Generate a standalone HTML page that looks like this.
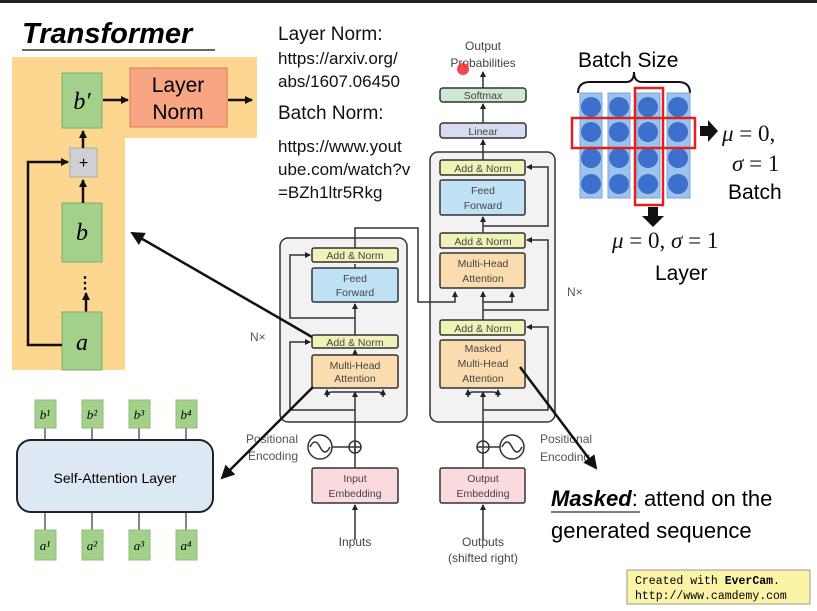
<!DOCTYPE html>
<html><head><meta charset="utf-8"><style>
html,body{margin:0;padding:0;background:#fff;}
svg{display:block;}
text{font-family:"Liberation Sans",sans-serif;}
text.m{font-family:"Liberation Serif",serif;font-style:italic;}
</style></head><body>
<svg width="817" height="611" viewBox="0 0 817 611" xmlns="http://www.w3.org/2000/svg">
<defs>
<marker id="ah" markerWidth="8" markerHeight="8" refX="7" refY="4" orient="auto" markerUnits="userSpaceOnUse"><path d="M0,0 L8,4 L0,8 z" fill="#111"/></marker>
<marker id="as" markerWidth="6" markerHeight="6" refX="5" refY="3" orient="auto" markerUnits="userSpaceOnUse"><path d="M0,0 L6,3 L0,6 z" fill="#222"/></marker>
<marker id="ab" markerWidth="14" markerHeight="14" refX="12" refY="7" orient="auto" markerUnits="userSpaceOnUse"><path d="M0,0 L14,7 L0,14 z" fill="#111"/></marker>
</defs>
<rect x="0" y="0" width="817" height="3" fill="#222"/>
<text x="22" y="43" font-size="29" font-weight="bold" font-style="italic">Transformer</text>
<line x1="22" y1="50" x2="215" y2="50" stroke="#333" stroke-width="1.5"/>
<path d="M12,57 H257 V138 H125 V370 H12 Z" fill="#fdd690"/>
<rect x="62" y="73" width="40" height="55" fill="#a3d08a" stroke="#7fae6a"/>
<text x="82" y="109" font-size="24" text-anchor="middle" class="m">b′</text>
<rect x="130" y="68" width="97" height="59" fill="#f8a584" stroke="#e07a55"/>
<text x="178" y="92" font-size="21" text-anchor="middle">Layer</text>
<text x="178" y="119" font-size="21" text-anchor="middle">Norm</text>
<line x1="103" y1="100" x2="128" y2="100" stroke="#111" stroke-width="2.5" marker-end="url(#ah)"/>
<line x1="228" y1="100" x2="252" y2="100" stroke="#111" stroke-width="2.5" marker-end="url(#ah)"/>
<rect x="70" y="148" width="27" height="29" fill="#d0d0d4" stroke="#aaa"/>
<text x="83.5" y="168" font-size="16" text-anchor="middle">+</text>
<line x1="83" y1="148" x2="83" y2="131" stroke="#111" stroke-width="2.5" marker-end="url(#ah)"/>
<rect x="62" y="203" width="40" height="59" fill="#a3d08a" stroke="#7fae6a"/>
<text x="82" y="240" font-size="24" text-anchor="middle" class="m">b</text>
<line x1="83" y1="203" x2="83" y2="180" stroke="#111" stroke-width="2.5" marker-end="url(#ah)"/>
<text x="85" y="288" font-size="16" text-anchor="middle" font-weight="bold">⋮</text>
<line x1="86" y1="312" x2="86" y2="293" stroke="#111" stroke-width="2.5" marker-end="url(#ah)"/>
<rect x="62" y="312" width="40" height="58" fill="#a3d08a" stroke="#7fae6a"/>
<text x="82" y="350" font-size="24" text-anchor="middle" class="m">a</text>
<path d="M62,345 H28 V162 H68" fill="none" stroke="#111" stroke-width="2.5" marker-end="url(#ah)"/>
<g stroke="#333" stroke-width="1.2">
<line x1="45" y1="428" x2="45" y2="530"/><line x1="92" y1="428" x2="92" y2="530"/><line x1="139" y1="428" x2="139" y2="530"/><line x1="186" y1="428" x2="186" y2="530"/>
</g>
<rect x="17" y="440" width="196" height="72" rx="14" fill="#dce8f4" stroke="#222" stroke-width="2"/>
<text x="115" y="483" font-size="14" text-anchor="middle">Self-Attention Layer</text>
<g fill="#a3d08a" stroke="#8fbb78">
<rect x="35" y="400" width="21" height="28"/><rect x="82" y="400" width="21" height="28"/><rect x="129" y="400" width="21" height="28"/><rect x="176" y="400" width="21" height="28"/>
<rect x="35" y="530" width="21" height="30"/><rect x="82" y="530" width="21" height="30"/><rect x="129" y="530" width="21" height="30"/><rect x="176" y="530" width="21" height="30"/>
</g>
<g font-size="13" text-anchor="middle">
<text class="m" x="45" y="419">b¹</text><text class="m" x="92" y="419">b²</text><text class="m" x="139" y="419">b³</text><text class="m" x="186" y="419">b⁴</text>
<text class="m" x="45" y="550">a¹</text><text class="m" x="92" y="550">a²</text><text class="m" x="139" y="550">a³</text><text class="m" x="186" y="550">a⁴</text>
</g>
<g font-size="19" fill="#111">
<text x="278" y="40">Layer Norm:</text>
<text x="278" y="64" font-size="17">https://arxiv.org/</text>
<text x="278" y="87" font-size="17">abs/1607.06450</text>
<text x="278" y="119">Batch Norm:</text>
<text x="278" y="152" font-size="17">https://www.yout</text>
<text x="278" y="175" font-size="17">ube.com/watch?v</text>
<text x="278" y="198" font-size="17">=BZh1ltr5Rkg</text>
</g>
<rect x="280" y="238" width="127" height="184" rx="8" fill="#f2f2f2" stroke="#333" stroke-width="1.5"/>
<rect x="430" y="152" width="125" height="270" rx="8" fill="#f2f2f2" stroke="#333" stroke-width="1.5"/>
<g stroke="#333" stroke-width="1.5" fill="none">
<line x1="355" y1="468" x2="355" y2="392" marker-end="url(#as)"/>
<line x1="355" y1="388" x2="355" y2="350" marker-end="url(#as)"/>
<line x1="355" y1="335" x2="355" y2="304" marker-end="url(#as)"/>
<line x1="355" y1="268" x2="355" y2="264"/>
<path d="M355,410 H290 V342 H310" marker-end="url(#as)"/>
<path d="M355,318 H290 V255 H310" marker-end="url(#as)"/>
<path d="M327,397 Q327,392 332,392 H378 Q383,392 383,397"/>
<line x1="327" y1="397" x2="327" y2="390" marker-end="url(#as)"/>
<line x1="383" y1="397" x2="383" y2="390" marker-end="url(#as)"/>
<line x1="355" y1="540" x2="355" y2="505" marker-end="url(#as)"/>
<path d="M355,248 V228 H418 V302 H455 V292" marker-end="url(#as)"/>
<line x1="483" y1="468" x2="483" y2="392" marker-end="url(#as)"/>
<line x1="483" y1="540" x2="483" y2="505" marker-end="url(#as)"/>
<path d="M483,410 H548 V327 H527" marker-end="url(#as)"/>
<path d="M468,397 Q468,392 473,392 H493 Q498,392 498,397"/>
<line x1="468" y1="397" x2="468" y2="390" marker-end="url(#as)"/>
<line x1="498" y1="397" x2="498" y2="390" marker-end="url(#as)"/>
<path d="M483,320 V302 H512 V292" marker-end="url(#as)"/>
<line x1="483" y1="302" x2="483" y2="292" marker-end="url(#as)"/>
<path d="M483,310 H548 V240 H527" marker-end="url(#as)"/>
<line x1="483" y1="233" x2="483" y2="217" marker-end="url(#as)"/>
<path d="M483,226 H548 V167 H527" marker-end="url(#as)"/>
<line x1="483" y1="160" x2="483" y2="140" marker-end="url(#as)"/>
<line x1="483" y1="123" x2="483" y2="104" marker-end="url(#as)"/>
<line x1="483" y1="88" x2="483" y2="72" marker-end="url(#as)"/>
<circle cx="320" cy="447" r="12"/>
<path d="M310,447 Q315,437 320,447 Q325,457 330,447"/>
<line x1="332" y1="447" x2="349" y2="447"/>
<circle cx="355" cy="447" r="6"/>
<line x1="349" y1="447" x2="361" y2="447"/><line x1="355" y1="441" x2="355" y2="453"/>
<circle cx="512" cy="447" r="12"/>
<path d="M502,447 Q507,437 512,447 Q517,457 522,447"/>
<line x1="489" y1="447" x2="500" y2="447"/>
<circle cx="483" cy="447" r="6"/>
<line x1="477" y1="447" x2="489" y2="447"/>
</g>
<g stroke="#333" stroke-width="1.5">
<rect x="312" y="248" width="86" height="14" rx="2" fill="#f1f2b8"/>
<rect x="312" y="268" width="86" height="34" rx="2" fill="#bfe3f4"/>
<rect x="312" y="335" width="86" height="13" rx="2" fill="#f1f2b8"/>
<rect x="312" y="355" width="86" height="33" rx="2" fill="#fbdcae"/>
<rect x="312" y="468" width="86" height="35" rx="2" fill="#fadadc"/>
<rect x="440" y="160" width="85" height="15" rx="2" fill="#f1f2b8"/>
<rect x="440" y="180" width="85" height="35" rx="2" fill="#bfe3f4"/>
<rect x="440" y="233" width="85" height="15" rx="2" fill="#f1f2b8"/>
<rect x="440" y="253" width="85" height="35" rx="2" fill="#fbdcae"/>
<rect x="440" y="320" width="85" height="15" rx="2" fill="#f1f2b8"/>
<rect x="440" y="340" width="85" height="48" rx="2" fill="#fbdcae"/>
<rect x="440" y="468" width="85" height="35" rx="2" fill="#fadadc"/>
<rect x="440" y="123" width="86" height="15" rx="3" fill="#d8dcf0"/>
<rect x="440" y="88" width="86" height="14" rx="3" fill="#cfe8d4"/>
</g>
<g font-size="10.5" fill="#444" text-anchor="middle">
<text x="355" y="259">Add &amp; Norm</text>
<text x="355" y="282">Feed</text><text x="355" y="296">Forward</text>
<text x="355" y="346">Add &amp; Norm</text>
<text x="355" y="369">Multi-Head</text><text x="355" y="382">Attention</text>
<text x="355" y="482">Input</text><text x="355" y="497">Embedding</text>
<text x="355" y="546" font-size="12">Inputs</text>
<text x="483" y="172">Add &amp; Norm</text>
<text x="483" y="194">Feed</text><text x="483" y="209">Forward</text>
<text x="483" y="245">Add &amp; Norm</text>
<text x="483" y="267">Multi-Head</text><text x="483" y="282">Attention</text>
<text x="483" y="332">Add &amp; Norm</text>
<text x="483" y="352">Masked</text><text x="483" y="367">Multi-Head</text><text x="483" y="382">Attention</text>
<text x="483" y="482">Output</text><text x="483" y="497">Embedding</text>
<text x="483" y="546" font-size="12">Outputs</text>
<text x="483" y="562" font-size="12">(shifted right)</text>
<text x="483" y="135">Linear</text>
<text x="483" y="99">Softmax</text>
<text x="483" y="50" font-size="12">Output</text>
<text x="483" y="67" font-size="12">Probabilities</text>
</g>
<circle cx="463" cy="69" r="6" fill="#ee2a2a" opacity="0.85"/>
<g font-size="12" fill="#555">
<text x="250" y="341">N×</text><text x="567" y="296">N×</text>
<text x="298" y="443" text-anchor="end">Positional</text><text x="298" y="460" text-anchor="end">Encoding</text>
<text x="540" y="443">Positional</text><text x="540" y="461">Encoding</text>
</g>
<line x1="312" y1="337" x2="132" y2="233" stroke="#111" stroke-width="2.5" marker-end="url(#ab)"/>
<line x1="313" y1="387" x2="222" y2="478" stroke="#111" stroke-width="2.5" marker-end="url(#ab)"/>
<line x1="520" y1="367" x2="596" y2="468" stroke="#111" stroke-width="2.5" marker-end="url(#ab)"/>
<text x="578" y="67" font-size="21">Batch Size</text>
<path d="M578,93 Q578,82 590,82 H626 Q634,82 634,72 Q634,82 642,82 H678 Q690,82 690,93" fill="none" stroke="#111" stroke-width="2"/>
<g fill="#9cc3ec" stroke="#7aa6d8">
<rect x="580" y="93" width="22" height="105"/><rect x="608" y="93" width="22" height="105"/><rect x="637" y="93" width="23" height="105"/><rect x="667" y="93" width="23" height="105"/>
</g>
<g fill="#3d6fcc">
<circle cx="591" cy="107" r="10"/><circle cx="619" cy="107" r="10"/><circle cx="648" cy="107" r="10"/><circle cx="678" cy="107" r="10"/>
<circle cx="591" cy="132" r="10"/><circle cx="619" cy="132" r="10"/><circle cx="648" cy="132" r="10"/><circle cx="678" cy="132" r="10"/>
<circle cx="591" cy="158" r="10"/><circle cx="619" cy="158" r="10"/><circle cx="648" cy="158" r="10"/><circle cx="678" cy="158" r="10"/>
<circle cx="591" cy="184" r="10"/><circle cx="619" cy="184" r="10"/><circle cx="648" cy="184" r="10"/><circle cx="678" cy="184" r="10"/>
</g>
<rect x="572" y="118" width="123" height="30" fill="none" stroke="#e02020" stroke-width="2.5"/>
<rect x="635" y="88" width="28" height="117" fill="none" stroke="#e02020" stroke-width="2.5"/>
<path d="M700,126 H708 V120 L718,131 L708,142 V136 H700 Z" fill="#111"/>
<path d="M648,207 H658 V216 H664 L653,227 L642,216 H648 Z" fill="#111"/>
<g font-size="23" fill="#111">
<text class="m" x="722" y="141">μ <tspan font-style="normal">= 0,</tspan></text>
<text class="m" x="732" y="171">σ <tspan font-style="normal">= 1</tspan></text>
<text class="m" x="612" y="248">μ <tspan font-style="normal">= 0, </tspan>σ<tspan font-style="normal"> = 1</tspan></text>
</g>
<text x="728" y="199" font-size="21">Batch</text>
<text x="655" y="280" font-size="21">Layer</text>
<text x="551" y="506" font-size="22"><tspan font-weight="bold" font-style="italic">Masked</tspan>: attend on the</text>
<line x1="551" y1="512" x2="640" y2="512" stroke="#333" stroke-width="1.2"/>
<text x="551" y="538" font-size="22">generated sequence</text>
<rect x="627" y="570" width="183" height="34" fill="#fbf3a6" stroke="#999"/>
<text x="635" y="584" font-size="11.5" style="font-family:'Liberation Mono',monospace">Created with <tspan font-weight="bold">EverCam</tspan>.</text>
<text x="635" y="599" font-size="11.5" style="font-family:'Liberation Mono',monospace">http://www.camdemy.com</text>
</svg>
</body></html>
